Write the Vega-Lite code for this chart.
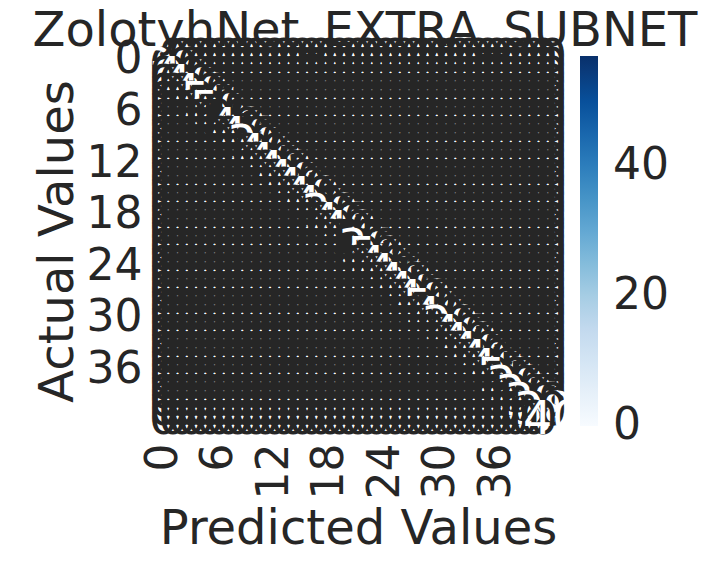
{
"$schema": "https://vega.github.io/schema/vega-lite/v6.json",
"width": 398,
"height": 370,
"autosize": "none",
"padding": {"left": 159, "top": 56, "right": 156, "bottom": 135},
"background": "white",
"title": {"text": "ZolotyhNet_EXTRA_SUBNET", "fontSize": 48, "font": "DejaVu Sans", "fontWeight": "normal", "color": "#262626", "anchor": "middle", "frame": "group", "dx": 7, "dy": 51, "baseline": "alphabetic", "offset": -8},
"config": {"view": {"stroke": null}, "font": "DejaVu Sans"},
"data": {"values": [
{"a":0,"p":0,"n":33},{"a":0,"p":1,"n":0},{"a":0,"p":2,"n":0},{"a":0,"p":3,"n":0},{"a":0,"p":4,"n":0},{"a":0,"p":5,"n":0},{"a":0,"p":6,"n":0},{"a":0,"p":7,"n":0},{"a":0,"p":8,"n":0},{"a":0,"p":9,"n":0},{"a":0,"p":10,"n":0},{"a":0,"p":11,"n":0},{"a":0,"p":12,"n":0},{"a":0,"p":13,"n":0},{"a":0,"p":14,"n":0},{"a":0,"p":15,"n":0},{"a":0,"p":16,"n":0},{"a":0,"p":17,"n":0},{"a":0,"p":18,"n":0},{"a":0,"p":19,"n":0},{"a":0,"p":20,"n":0},{"a":0,"p":21,"n":0},{"a":0,"p":22,"n":0},{"a":0,"p":23,"n":0},{"a":0,"p":24,"n":0},{"a":0,"p":25,"n":0},{"a":0,"p":26,"n":0},{"a":0,"p":27,"n":0},{"a":0,"p":28,"n":0},{"a":0,"p":29,"n":0},{"a":0,"p":30,"n":0},{"a":0,"p":31,"n":0},{"a":0,"p":32,"n":0},{"a":0,"p":33,"n":0},{"a":0,"p":34,"n":0},{"a":0,"p":35,"n":0},{"a":0,"p":36,"n":0},{"a":0,"p":37,"n":0},{"a":0,"p":38,"n":0},{"a":0,"p":39,"n":0},{"a":0,"p":40,"n":0},{"a":0,"p":41,"n":0},{"a":0,"p":42,"n":0},
{"a":1,"p":0,"n":0},{"a":1,"p":1,"n":30},{"a":1,"p":2,"n":0},{"a":1,"p":3,"n":0},{"a":1,"p":4,"n":0},{"a":1,"p":5,"n":0},{"a":1,"p":6,"n":0},{"a":1,"p":7,"n":0},{"a":1,"p":8,"n":0},{"a":1,"p":9,"n":0},{"a":1,"p":10,"n":0},{"a":1,"p":11,"n":0},{"a":1,"p":12,"n":0},{"a":1,"p":13,"n":0},{"a":1,"p":14,"n":0},{"a":1,"p":15,"n":0},{"a":1,"p":16,"n":0},{"a":1,"p":17,"n":0},{"a":1,"p":18,"n":0},{"a":1,"p":19,"n":0},{"a":1,"p":20,"n":0},{"a":1,"p":21,"n":0},{"a":1,"p":22,"n":0},{"a":1,"p":23,"n":0},{"a":1,"p":24,"n":0},{"a":1,"p":25,"n":0},{"a":1,"p":26,"n":0},{"a":1,"p":27,"n":0},{"a":1,"p":28,"n":0},{"a":1,"p":29,"n":0},{"a":1,"p":30,"n":0},{"a":1,"p":31,"n":0},{"a":1,"p":32,"n":0},{"a":1,"p":33,"n":0},{"a":1,"p":34,"n":0},{"a":1,"p":35,"n":0},{"a":1,"p":36,"n":0},{"a":1,"p":37,"n":0},{"a":1,"p":38,"n":0},{"a":1,"p":39,"n":0},{"a":1,"p":40,"n":0},{"a":1,"p":41,"n":0},{"a":1,"p":42,"n":0},
{"a":2,"p":0,"n":0},{"a":2,"p":1,"n":0},{"a":2,"p":2,"n":44},{"a":2,"p":3,"n":0},{"a":2,"p":4,"n":0},{"a":2,"p":5,"n":0},{"a":2,"p":6,"n":0},{"a":2,"p":7,"n":0},{"a":2,"p":8,"n":0},{"a":2,"p":9,"n":0},{"a":2,"p":10,"n":0},{"a":2,"p":11,"n":0},{"a":2,"p":12,"n":0},{"a":2,"p":13,"n":0},{"a":2,"p":14,"n":0},{"a":2,"p":15,"n":0},{"a":2,"p":16,"n":0},{"a":2,"p":17,"n":0},{"a":2,"p":18,"n":0},{"a":2,"p":19,"n":0},{"a":2,"p":20,"n":0},{"a":2,"p":21,"n":0},{"a":2,"p":22,"n":0},{"a":2,"p":23,"n":0},{"a":2,"p":24,"n":0},{"a":2,"p":25,"n":0},{"a":2,"p":26,"n":0},{"a":2,"p":27,"n":0},{"a":2,"p":28,"n":0},{"a":2,"p":29,"n":0},{"a":2,"p":30,"n":0},{"a":2,"p":31,"n":0},{"a":2,"p":32,"n":0},{"a":2,"p":33,"n":0},{"a":2,"p":34,"n":0},{"a":2,"p":35,"n":0},{"a":2,"p":36,"n":0},{"a":2,"p":37,"n":0},{"a":2,"p":38,"n":0},{"a":2,"p":39,"n":0},{"a":2,"p":40,"n":0},{"a":2,"p":41,"n":0},{"a":2,"p":42,"n":0},
{"a":3,"p":0,"n":0},{"a":3,"p":1,"n":0},{"a":3,"p":2,"n":0},{"a":3,"p":3,"n":45},{"a":3,"p":4,"n":0},{"a":3,"p":5,"n":0},{"a":3,"p":6,"n":0},{"a":3,"p":7,"n":0},{"a":3,"p":8,"n":0},{"a":3,"p":9,"n":0},{"a":3,"p":10,"n":0},{"a":3,"p":11,"n":0},{"a":3,"p":12,"n":0},{"a":3,"p":13,"n":0},{"a":3,"p":14,"n":0},{"a":3,"p":15,"n":0},{"a":3,"p":16,"n":0},{"a":3,"p":17,"n":0},{"a":3,"p":18,"n":0},{"a":3,"p":19,"n":0},{"a":3,"p":20,"n":0},{"a":3,"p":21,"n":0},{"a":3,"p":22,"n":0},{"a":3,"p":23,"n":0},{"a":3,"p":24,"n":0},{"a":3,"p":25,"n":0},{"a":3,"p":26,"n":0},{"a":3,"p":27,"n":0},{"a":3,"p":28,"n":0},{"a":3,"p":29,"n":0},{"a":3,"p":30,"n":0},{"a":3,"p":31,"n":0},{"a":3,"p":32,"n":0},{"a":3,"p":33,"n":0},{"a":3,"p":34,"n":0},{"a":3,"p":35,"n":0},{"a":3,"p":36,"n":0},{"a":3,"p":37,"n":0},{"a":3,"p":38,"n":0},{"a":3,"p":39,"n":0},{"a":3,"p":40,"n":0},{"a":3,"p":41,"n":0},{"a":3,"p":42,"n":0},
{"a":4,"p":0,"n":0},{"a":4,"p":1,"n":0},{"a":4,"p":2,"n":0},{"a":4,"p":3,"n":0},{"a":4,"p":4,"n":48},{"a":4,"p":5,"n":0},{"a":4,"p":6,"n":0},{"a":4,"p":7,"n":0},{"a":4,"p":8,"n":0},{"a":4,"p":9,"n":0},{"a":4,"p":10,"n":0},{"a":4,"p":11,"n":0},{"a":4,"p":12,"n":0},{"a":4,"p":13,"n":0},{"a":4,"p":14,"n":0},{"a":4,"p":15,"n":0},{"a":4,"p":16,"n":0},{"a":4,"p":17,"n":0},{"a":4,"p":18,"n":0},{"a":4,"p":19,"n":0},{"a":4,"p":20,"n":0},{"a":4,"p":21,"n":0},{"a":4,"p":22,"n":0},{"a":4,"p":23,"n":0},{"a":4,"p":24,"n":0},{"a":4,"p":25,"n":0},{"a":4,"p":26,"n":0},{"a":4,"p":27,"n":0},{"a":4,"p":28,"n":0},{"a":4,"p":29,"n":0},{"a":4,"p":30,"n":0},{"a":4,"p":31,"n":0},{"a":4,"p":32,"n":0},{"a":4,"p":33,"n":0},{"a":4,"p":34,"n":0},{"a":4,"p":35,"n":0},{"a":4,"p":36,"n":0},{"a":4,"p":37,"n":0},{"a":4,"p":38,"n":0},{"a":4,"p":39,"n":0},{"a":4,"p":40,"n":0},{"a":4,"p":41,"n":0},{"a":4,"p":42,"n":0},
{"a":5,"p":0,"n":0},{"a":5,"p":1,"n":0},{"a":5,"p":2,"n":0},{"a":5,"p":3,"n":0},{"a":5,"p":4,"n":0},{"a":5,"p":5,"n":57},{"a":5,"p":6,"n":0},{"a":5,"p":7,"n":0},{"a":5,"p":8,"n":0},{"a":5,"p":9,"n":0},{"a":5,"p":10,"n":0},{"a":5,"p":11,"n":0},{"a":5,"p":12,"n":0},{"a":5,"p":13,"n":0},{"a":5,"p":14,"n":0},{"a":5,"p":15,"n":0},{"a":5,"p":16,"n":0},{"a":5,"p":17,"n":0},{"a":5,"p":18,"n":0},{"a":5,"p":19,"n":0},{"a":5,"p":20,"n":0},{"a":5,"p":21,"n":0},{"a":5,"p":22,"n":0},{"a":5,"p":23,"n":0},{"a":5,"p":24,"n":0},{"a":5,"p":25,"n":0},{"a":5,"p":26,"n":0},{"a":5,"p":27,"n":0},{"a":5,"p":28,"n":0},{"a":5,"p":29,"n":0},{"a":5,"p":30,"n":0},{"a":5,"p":31,"n":0},{"a":5,"p":32,"n":0},{"a":5,"p":33,"n":0},{"a":5,"p":34,"n":0},{"a":5,"p":35,"n":0},{"a":5,"p":36,"n":0},{"a":5,"p":37,"n":0},{"a":5,"p":38,"n":0},{"a":5,"p":39,"n":0},{"a":5,"p":40,"n":0},{"a":5,"p":41,"n":0},{"a":5,"p":42,"n":0},
{"a":6,"p":0,"n":0},{"a":6,"p":1,"n":0},{"a":6,"p":2,"n":0},{"a":6,"p":3,"n":0},{"a":6,"p":4,"n":0},{"a":6,"p":5,"n":0},{"a":6,"p":6,"n":55},{"a":6,"p":7,"n":0},{"a":6,"p":8,"n":0},{"a":6,"p":9,"n":0},{"a":6,"p":10,"n":0},{"a":6,"p":11,"n":0},{"a":6,"p":12,"n":0},{"a":6,"p":13,"n":0},{"a":6,"p":14,"n":0},{"a":6,"p":15,"n":0},{"a":6,"p":16,"n":0},{"a":6,"p":17,"n":0},{"a":6,"p":18,"n":0},{"a":6,"p":19,"n":0},{"a":6,"p":20,"n":0},{"a":6,"p":21,"n":0},{"a":6,"p":22,"n":0},{"a":6,"p":23,"n":0},{"a":6,"p":24,"n":0},{"a":6,"p":25,"n":0},{"a":6,"p":26,"n":0},{"a":6,"p":27,"n":0},{"a":6,"p":28,"n":0},{"a":6,"p":29,"n":0},{"a":6,"p":30,"n":0},{"a":6,"p":31,"n":0},{"a":6,"p":32,"n":0},{"a":6,"p":33,"n":0},{"a":6,"p":34,"n":0},{"a":6,"p":35,"n":0},{"a":6,"p":36,"n":0},{"a":6,"p":37,"n":0},{"a":6,"p":38,"n":0},{"a":6,"p":39,"n":0},{"a":6,"p":40,"n":0},{"a":6,"p":41,"n":0},{"a":6,"p":42,"n":0},
{"a":7,"p":0,"n":0},{"a":7,"p":1,"n":0},{"a":7,"p":2,"n":0},{"a":7,"p":3,"n":0},{"a":7,"p":4,"n":0},{"a":7,"p":5,"n":0},{"a":7,"p":6,"n":0},{"a":7,"p":7,"n":18},{"a":7,"p":8,"n":0},{"a":7,"p":9,"n":0},{"a":7,"p":10,"n":0},{"a":7,"p":11,"n":0},{"a":7,"p":12,"n":0},{"a":7,"p":13,"n":0},{"a":7,"p":14,"n":0},{"a":7,"p":15,"n":0},{"a":7,"p":16,"n":0},{"a":7,"p":17,"n":0},{"a":7,"p":18,"n":0},{"a":7,"p":19,"n":0},{"a":7,"p":20,"n":0},{"a":7,"p":21,"n":0},{"a":7,"p":22,"n":0},{"a":7,"p":23,"n":0},{"a":7,"p":24,"n":0},{"a":7,"p":25,"n":0},{"a":7,"p":26,"n":0},{"a":7,"p":27,"n":0},{"a":7,"p":28,"n":0},{"a":7,"p":29,"n":0},{"a":7,"p":30,"n":0},{"a":7,"p":31,"n":0},{"a":7,"p":32,"n":0},{"a":7,"p":33,"n":0},{"a":7,"p":34,"n":0},{"a":7,"p":35,"n":0},{"a":7,"p":36,"n":0},{"a":7,"p":37,"n":0},{"a":7,"p":38,"n":0},{"a":7,"p":39,"n":0},{"a":7,"p":40,"n":0},{"a":7,"p":41,"n":0},{"a":7,"p":42,"n":0},
{"a":8,"p":0,"n":0},{"a":8,"p":1,"n":0},{"a":8,"p":2,"n":0},{"a":8,"p":3,"n":0},{"a":8,"p":4,"n":0},{"a":8,"p":5,"n":0},{"a":8,"p":6,"n":0},{"a":8,"p":7,"n":0},{"a":8,"p":8,"n":42},{"a":8,"p":9,"n":0},{"a":8,"p":10,"n":0},{"a":8,"p":11,"n":0},{"a":8,"p":12,"n":0},{"a":8,"p":13,"n":0},{"a":8,"p":14,"n":0},{"a":8,"p":15,"n":0},{"a":8,"p":16,"n":0},{"a":8,"p":17,"n":0},{"a":8,"p":18,"n":0},{"a":8,"p":19,"n":0},{"a":8,"p":20,"n":0},{"a":8,"p":21,"n":0},{"a":8,"p":22,"n":0},{"a":8,"p":23,"n":0},{"a":8,"p":24,"n":0},{"a":8,"p":25,"n":0},{"a":8,"p":26,"n":0},{"a":8,"p":27,"n":0},{"a":8,"p":28,"n":0},{"a":8,"p":29,"n":0},{"a":8,"p":30,"n":0},{"a":8,"p":31,"n":0},{"a":8,"p":32,"n":0},{"a":8,"p":33,"n":0},{"a":8,"p":34,"n":0},{"a":8,"p":35,"n":0},{"a":8,"p":36,"n":0},{"a":8,"p":37,"n":0},{"a":8,"p":38,"n":0},{"a":8,"p":39,"n":0},{"a":8,"p":40,"n":0},{"a":8,"p":41,"n":0},{"a":8,"p":42,"n":0},
{"a":9,"p":0,"n":0},{"a":9,"p":1,"n":0},{"a":9,"p":2,"n":0},{"a":9,"p":3,"n":0},{"a":9,"p":4,"n":0},{"a":9,"p":5,"n":0},{"a":9,"p":6,"n":0},{"a":9,"p":7,"n":0},{"a":9,"p":8,"n":0},{"a":9,"p":9,"n":46},{"a":9,"p":10,"n":0},{"a":9,"p":11,"n":0},{"a":9,"p":12,"n":0},{"a":9,"p":13,"n":0},{"a":9,"p":14,"n":0},{"a":9,"p":15,"n":0},{"a":9,"p":16,"n":0},{"a":9,"p":17,"n":0},{"a":9,"p":18,"n":0},{"a":9,"p":19,"n":0},{"a":9,"p":20,"n":0},{"a":9,"p":21,"n":0},{"a":9,"p":22,"n":0},{"a":9,"p":23,"n":0},{"a":9,"p":24,"n":0},{"a":9,"p":25,"n":0},{"a":9,"p":26,"n":0},{"a":9,"p":27,"n":0},{"a":9,"p":28,"n":0},{"a":9,"p":29,"n":0},{"a":9,"p":30,"n":0},{"a":9,"p":31,"n":0},{"a":9,"p":32,"n":0},{"a":9,"p":33,"n":0},{"a":9,"p":34,"n":0},{"a":9,"p":35,"n":0},{"a":9,"p":36,"n":0},{"a":9,"p":37,"n":0},{"a":9,"p":38,"n":0},{"a":9,"p":39,"n":0},{"a":9,"p":40,"n":0},{"a":9,"p":41,"n":0},{"a":9,"p":42,"n":0},
{"a":10,"p":0,"n":0},{"a":10,"p":1,"n":0},{"a":10,"p":2,"n":0},{"a":10,"p":3,"n":0},{"a":10,"p":4,"n":0},{"a":10,"p":5,"n":0},{"a":10,"p":6,"n":0},{"a":10,"p":7,"n":0},{"a":10,"p":8,"n":0},{"a":10,"p":9,"n":0},{"a":10,"p":10,"n":35},{"a":10,"p":11,"n":0},{"a":10,"p":12,"n":0},{"a":10,"p":13,"n":0},{"a":10,"p":14,"n":0},{"a":10,"p":15,"n":0},{"a":10,"p":16,"n":0},{"a":10,"p":17,"n":0},{"a":10,"p":18,"n":0},{"a":10,"p":19,"n":0},{"a":10,"p":20,"n":0},{"a":10,"p":21,"n":0},{"a":10,"p":22,"n":0},{"a":10,"p":23,"n":0},{"a":10,"p":24,"n":0},{"a":10,"p":25,"n":0},{"a":10,"p":26,"n":0},{"a":10,"p":27,"n":0},{"a":10,"p":28,"n":0},{"a":10,"p":29,"n":0},{"a":10,"p":30,"n":0},{"a":10,"p":31,"n":0},{"a":10,"p":32,"n":0},{"a":10,"p":33,"n":0},{"a":10,"p":34,"n":0},{"a":10,"p":35,"n":0},{"a":10,"p":36,"n":0},{"a":10,"p":37,"n":0},{"a":10,"p":38,"n":0},{"a":10,"p":39,"n":0},{"a":10,"p":40,"n":0},{"a":10,"p":41,"n":0},{"a":10,"p":42,"n":0},
{"a":11,"p":0,"n":0},{"a":11,"p":1,"n":0},{"a":11,"p":2,"n":0},{"a":11,"p":3,"n":0},{"a":11,"p":4,"n":0},{"a":11,"p":5,"n":0},{"a":11,"p":6,"n":0},{"a":11,"p":7,"n":0},{"a":11,"p":8,"n":0},{"a":11,"p":9,"n":0},{"a":11,"p":10,"n":0},{"a":11,"p":11,"n":44},{"a":11,"p":12,"n":0},{"a":11,"p":13,"n":0},{"a":11,"p":14,"n":0},{"a":11,"p":15,"n":0},{"a":11,"p":16,"n":0},{"a":11,"p":17,"n":0},{"a":11,"p":18,"n":0},{"a":11,"p":19,"n":0},{"a":11,"p":20,"n":0},{"a":11,"p":21,"n":0},{"a":11,"p":22,"n":0},{"a":11,"p":23,"n":0},{"a":11,"p":24,"n":0},{"a":11,"p":25,"n":0},{"a":11,"p":26,"n":0},{"a":11,"p":27,"n":0},{"a":11,"p":28,"n":0},{"a":11,"p":29,"n":0},{"a":11,"p":30,"n":0},{"a":11,"p":31,"n":0},{"a":11,"p":32,"n":0},{"a":11,"p":33,"n":0},{"a":11,"p":34,"n":0},{"a":11,"p":35,"n":0},{"a":11,"p":36,"n":0},{"a":11,"p":37,"n":0},{"a":11,"p":38,"n":0},{"a":11,"p":39,"n":0},{"a":11,"p":40,"n":0},{"a":11,"p":41,"n":0},{"a":11,"p":42,"n":0},
{"a":12,"p":0,"n":0},{"a":12,"p":1,"n":0},{"a":12,"p":2,"n":0},{"a":12,"p":3,"n":0},{"a":12,"p":4,"n":0},{"a":12,"p":5,"n":0},{"a":12,"p":6,"n":0},{"a":12,"p":7,"n":0},{"a":12,"p":8,"n":0},{"a":12,"p":9,"n":0},{"a":12,"p":10,"n":0},{"a":12,"p":11,"n":0},{"a":12,"p":12,"n":47},{"a":12,"p":13,"n":0},{"a":12,"p":14,"n":0},{"a":12,"p":15,"n":0},{"a":12,"p":16,"n":0},{"a":12,"p":17,"n":0},{"a":12,"p":18,"n":0},{"a":12,"p":19,"n":0},{"a":12,"p":20,"n":0},{"a":12,"p":21,"n":0},{"a":12,"p":22,"n":0},{"a":12,"p":23,"n":0},{"a":12,"p":24,"n":0},{"a":12,"p":25,"n":0},{"a":12,"p":26,"n":0},{"a":12,"p":27,"n":0},{"a":12,"p":28,"n":0},{"a":12,"p":29,"n":0},{"a":12,"p":30,"n":0},{"a":12,"p":31,"n":0},{"a":12,"p":32,"n":0},{"a":12,"p":33,"n":0},{"a":12,"p":34,"n":0},{"a":12,"p":35,"n":0},{"a":12,"p":36,"n":0},{"a":12,"p":37,"n":0},{"a":12,"p":38,"n":0},{"a":12,"p":39,"n":0},{"a":12,"p":40,"n":0},{"a":12,"p":41,"n":0},{"a":12,"p":42,"n":0},
{"a":13,"p":0,"n":0},{"a":13,"p":1,"n":0},{"a":13,"p":2,"n":0},{"a":13,"p":3,"n":0},{"a":13,"p":4,"n":0},{"a":13,"p":5,"n":0},{"a":13,"p":6,"n":0},{"a":13,"p":7,"n":0},{"a":13,"p":8,"n":0},{"a":13,"p":9,"n":0},{"a":13,"p":10,"n":0},{"a":13,"p":11,"n":0},{"a":13,"p":12,"n":0},{"a":13,"p":13,"n":43},{"a":13,"p":14,"n":0},{"a":13,"p":15,"n":0},{"a":13,"p":16,"n":0},{"a":13,"p":17,"n":0},{"a":13,"p":18,"n":0},{"a":13,"p":19,"n":0},{"a":13,"p":20,"n":0},{"a":13,"p":21,"n":0},{"a":13,"p":22,"n":0},{"a":13,"p":23,"n":0},{"a":13,"p":24,"n":0},{"a":13,"p":25,"n":0},{"a":13,"p":26,"n":0},{"a":13,"p":27,"n":0},{"a":13,"p":28,"n":0},{"a":13,"p":29,"n":0},{"a":13,"p":30,"n":0},{"a":13,"p":31,"n":0},{"a":13,"p":32,"n":0},{"a":13,"p":33,"n":0},{"a":13,"p":34,"n":0},{"a":13,"p":35,"n":0},{"a":13,"p":36,"n":0},{"a":13,"p":37,"n":0},{"a":13,"p":38,"n":0},{"a":13,"p":39,"n":0},{"a":13,"p":40,"n":0},{"a":13,"p":41,"n":0},{"a":13,"p":42,"n":0},
{"a":14,"p":0,"n":0},{"a":14,"p":1,"n":0},{"a":14,"p":2,"n":0},{"a":14,"p":3,"n":0},{"a":14,"p":4,"n":0},{"a":14,"p":5,"n":0},{"a":14,"p":6,"n":0},{"a":14,"p":7,"n":0},{"a":14,"p":8,"n":0},{"a":14,"p":9,"n":0},{"a":14,"p":10,"n":0},{"a":14,"p":11,"n":0},{"a":14,"p":12,"n":0},{"a":14,"p":13,"n":0},{"a":14,"p":14,"n":45},{"a":14,"p":15,"n":0},{"a":14,"p":16,"n":0},{"a":14,"p":17,"n":0},{"a":14,"p":18,"n":0},{"a":14,"p":19,"n":0},{"a":14,"p":20,"n":0},{"a":14,"p":21,"n":0},{"a":14,"p":22,"n":0},{"a":14,"p":23,"n":0},{"a":14,"p":24,"n":0},{"a":14,"p":25,"n":0},{"a":14,"p":26,"n":0},{"a":14,"p":27,"n":0},{"a":14,"p":28,"n":0},{"a":14,"p":29,"n":0},{"a":14,"p":30,"n":0},{"a":14,"p":31,"n":0},{"a":14,"p":32,"n":0},{"a":14,"p":33,"n":0},{"a":14,"p":34,"n":0},{"a":14,"p":35,"n":0},{"a":14,"p":36,"n":0},{"a":14,"p":37,"n":0},{"a":14,"p":38,"n":0},{"a":14,"p":39,"n":0},{"a":14,"p":40,"n":0},{"a":14,"p":41,"n":0},{"a":14,"p":42,"n":0},
{"a":15,"p":0,"n":0},{"a":15,"p":1,"n":0},{"a":15,"p":2,"n":0},{"a":15,"p":3,"n":0},{"a":15,"p":4,"n":0},{"a":15,"p":5,"n":0},{"a":15,"p":6,"n":0},{"a":15,"p":7,"n":0},{"a":15,"p":8,"n":0},{"a":15,"p":9,"n":0},{"a":15,"p":10,"n":0},{"a":15,"p":11,"n":0},{"a":15,"p":12,"n":0},{"a":15,"p":13,"n":0},{"a":15,"p":14,"n":0},{"a":15,"p":15,"n":41},{"a":15,"p":16,"n":0},{"a":15,"p":17,"n":0},{"a":15,"p":18,"n":0},{"a":15,"p":19,"n":0},{"a":15,"p":20,"n":0},{"a":15,"p":21,"n":0},{"a":15,"p":22,"n":0},{"a":15,"p":23,"n":0},{"a":15,"p":24,"n":0},{"a":15,"p":25,"n":0},{"a":15,"p":26,"n":0},{"a":15,"p":27,"n":0},{"a":15,"p":28,"n":0},{"a":15,"p":29,"n":0},{"a":15,"p":30,"n":0},{"a":15,"p":31,"n":0},{"a":15,"p":32,"n":0},{"a":15,"p":33,"n":0},{"a":15,"p":34,"n":0},{"a":15,"p":35,"n":0},{"a":15,"p":36,"n":0},{"a":15,"p":37,"n":0},{"a":15,"p":38,"n":0},{"a":15,"p":39,"n":0},{"a":15,"p":40,"n":0},{"a":15,"p":41,"n":0},{"a":15,"p":42,"n":0},
{"a":16,"p":0,"n":0},{"a":16,"p":1,"n":0},{"a":16,"p":2,"n":0},{"a":16,"p":3,"n":0},{"a":16,"p":4,"n":0},{"a":16,"p":5,"n":0},{"a":16,"p":6,"n":0},{"a":16,"p":7,"n":0},{"a":16,"p":8,"n":0},{"a":16,"p":9,"n":0},{"a":16,"p":10,"n":0},{"a":16,"p":11,"n":0},{"a":16,"p":12,"n":0},{"a":16,"p":13,"n":0},{"a":16,"p":14,"n":0},{"a":16,"p":15,"n":0},{"a":16,"p":16,"n":49},{"a":16,"p":17,"n":0},{"a":16,"p":18,"n":0},{"a":16,"p":19,"n":0},{"a":16,"p":20,"n":0},{"a":16,"p":21,"n":0},{"a":16,"p":22,"n":0},{"a":16,"p":23,"n":0},{"a":16,"p":24,"n":0},{"a":16,"p":25,"n":0},{"a":16,"p":26,"n":0},{"a":16,"p":27,"n":0},{"a":16,"p":28,"n":0},{"a":16,"p":29,"n":0},{"a":16,"p":30,"n":0},{"a":16,"p":31,"n":0},{"a":16,"p":32,"n":0},{"a":16,"p":33,"n":0},{"a":16,"p":34,"n":0},{"a":16,"p":35,"n":0},{"a":16,"p":36,"n":0},{"a":16,"p":37,"n":0},{"a":16,"p":38,"n":0},{"a":16,"p":39,"n":0},{"a":16,"p":40,"n":0},{"a":16,"p":41,"n":0},{"a":16,"p":42,"n":0},
{"a":17,"p":0,"n":0},{"a":17,"p":1,"n":0},{"a":17,"p":2,"n":0},{"a":17,"p":3,"n":0},{"a":17,"p":4,"n":0},{"a":17,"p":5,"n":0},{"a":17,"p":6,"n":0},{"a":17,"p":7,"n":0},{"a":17,"p":8,"n":0},{"a":17,"p":9,"n":0},{"a":17,"p":10,"n":0},{"a":17,"p":11,"n":0},{"a":17,"p":12,"n":0},{"a":17,"p":13,"n":0},{"a":17,"p":14,"n":0},{"a":17,"p":15,"n":0},{"a":17,"p":16,"n":0},{"a":17,"p":17,"n":44},{"a":17,"p":18,"n":0},{"a":17,"p":19,"n":0},{"a":17,"p":20,"n":0},{"a":17,"p":21,"n":0},{"a":17,"p":22,"n":0},{"a":17,"p":23,"n":0},{"a":17,"p":24,"n":0},{"a":17,"p":25,"n":0},{"a":17,"p":26,"n":0},{"a":17,"p":27,"n":0},{"a":17,"p":28,"n":0},{"a":17,"p":29,"n":0},{"a":17,"p":30,"n":0},{"a":17,"p":31,"n":0},{"a":17,"p":32,"n":0},{"a":17,"p":33,"n":0},{"a":17,"p":34,"n":0},{"a":17,"p":35,"n":0},{"a":17,"p":36,"n":0},{"a":17,"p":37,"n":0},{"a":17,"p":38,"n":0},{"a":17,"p":39,"n":0},{"a":17,"p":40,"n":0},{"a":17,"p":41,"n":0},{"a":17,"p":42,"n":0},
{"a":18,"p":0,"n":0},{"a":18,"p":1,"n":0},{"a":18,"p":2,"n":0},{"a":18,"p":3,"n":0},{"a":18,"p":4,"n":0},{"a":18,"p":5,"n":0},{"a":18,"p":6,"n":0},{"a":18,"p":7,"n":0},{"a":18,"p":8,"n":0},{"a":18,"p":9,"n":0},{"a":18,"p":10,"n":0},{"a":18,"p":11,"n":0},{"a":18,"p":12,"n":0},{"a":18,"p":13,"n":0},{"a":18,"p":14,"n":0},{"a":18,"p":15,"n":0},{"a":18,"p":16,"n":0},{"a":18,"p":17,"n":0},{"a":18,"p":18,"n":38},{"a":18,"p":19,"n":0},{"a":18,"p":20,"n":0},{"a":18,"p":21,"n":0},{"a":18,"p":22,"n":0},{"a":18,"p":23,"n":0},{"a":18,"p":24,"n":0},{"a":18,"p":25,"n":0},{"a":18,"p":26,"n":0},{"a":18,"p":27,"n":0},{"a":18,"p":28,"n":0},{"a":18,"p":29,"n":0},{"a":18,"p":30,"n":0},{"a":18,"p":31,"n":0},{"a":18,"p":32,"n":0},{"a":18,"p":33,"n":0},{"a":18,"p":34,"n":0},{"a":18,"p":35,"n":0},{"a":18,"p":36,"n":0},{"a":18,"p":37,"n":0},{"a":18,"p":38,"n":0},{"a":18,"p":39,"n":0},{"a":18,"p":40,"n":0},{"a":18,"p":41,"n":0},{"a":18,"p":42,"n":0},
{"a":19,"p":0,"n":0},{"a":19,"p":1,"n":0},{"a":19,"p":2,"n":0},{"a":19,"p":3,"n":0},{"a":19,"p":4,"n":0},{"a":19,"p":5,"n":0},{"a":19,"p":6,"n":0},{"a":19,"p":7,"n":0},{"a":19,"p":8,"n":0},{"a":19,"p":9,"n":0},{"a":19,"p":10,"n":0},{"a":19,"p":11,"n":0},{"a":19,"p":12,"n":0},{"a":19,"p":13,"n":0},{"a":19,"p":14,"n":0},{"a":19,"p":15,"n":0},{"a":19,"p":16,"n":0},{"a":19,"p":17,"n":0},{"a":19,"p":18,"n":0},{"a":19,"p":19,"n":46},{"a":19,"p":20,"n":0},{"a":19,"p":21,"n":0},{"a":19,"p":22,"n":0},{"a":19,"p":23,"n":0},{"a":19,"p":24,"n":0},{"a":19,"p":25,"n":0},{"a":19,"p":26,"n":0},{"a":19,"p":27,"n":0},{"a":19,"p":28,"n":0},{"a":19,"p":29,"n":0},{"a":19,"p":30,"n":0},{"a":19,"p":31,"n":0},{"a":19,"p":32,"n":0},{"a":19,"p":33,"n":0},{"a":19,"p":34,"n":0},{"a":19,"p":35,"n":0},{"a":19,"p":36,"n":0},{"a":19,"p":37,"n":0},{"a":19,"p":38,"n":0},{"a":19,"p":39,"n":0},{"a":19,"p":40,"n":0},{"a":19,"p":41,"n":0},{"a":19,"p":42,"n":0},
{"a":20,"p":0,"n":0},{"a":20,"p":1,"n":0},{"a":20,"p":2,"n":0},{"a":20,"p":3,"n":0},{"a":20,"p":4,"n":0},{"a":20,"p":5,"n":0},{"a":20,"p":6,"n":0},{"a":20,"p":7,"n":0},{"a":20,"p":8,"n":0},{"a":20,"p":9,"n":0},{"a":20,"p":10,"n":0},{"a":20,"p":11,"n":0},{"a":20,"p":12,"n":0},{"a":20,"p":13,"n":0},{"a":20,"p":14,"n":0},{"a":20,"p":15,"n":0},{"a":20,"p":16,"n":0},{"a":20,"p":17,"n":0},{"a":20,"p":18,"n":0},{"a":20,"p":19,"n":0},{"a":20,"p":20,"n":43},{"a":20,"p":21,"n":0},{"a":20,"p":22,"n":0},{"a":20,"p":23,"n":0},{"a":20,"p":24,"n":0},{"a":20,"p":25,"n":0},{"a":20,"p":26,"n":0},{"a":20,"p":27,"n":0},{"a":20,"p":28,"n":0},{"a":20,"p":29,"n":0},{"a":20,"p":30,"n":0},{"a":20,"p":31,"n":0},{"a":20,"p":32,"n":0},{"a":20,"p":33,"n":0},{"a":20,"p":34,"n":0},{"a":20,"p":35,"n":0},{"a":20,"p":36,"n":0},{"a":20,"p":37,"n":0},{"a":20,"p":38,"n":0},{"a":20,"p":39,"n":0},{"a":20,"p":40,"n":0},{"a":20,"p":41,"n":0},{"a":20,"p":42,"n":0},
{"a":21,"p":0,"n":0},{"a":21,"p":1,"n":0},{"a":21,"p":2,"n":0},{"a":21,"p":3,"n":0},{"a":21,"p":4,"n":0},{"a":21,"p":5,"n":0},{"a":21,"p":6,"n":0},{"a":21,"p":7,"n":0},{"a":21,"p":8,"n":0},{"a":21,"p":9,"n":0},{"a":21,"p":10,"n":0},{"a":21,"p":11,"n":0},{"a":21,"p":12,"n":0},{"a":21,"p":13,"n":0},{"a":21,"p":14,"n":0},{"a":21,"p":15,"n":0},{"a":21,"p":16,"n":0},{"a":21,"p":17,"n":0},{"a":21,"p":18,"n":0},{"a":21,"p":19,"n":0},{"a":21,"p":20,"n":0},{"a":21,"p":21,"n":17},{"a":21,"p":22,"n":0},{"a":21,"p":23,"n":0},{"a":21,"p":24,"n":0},{"a":21,"p":25,"n":0},{"a":21,"p":26,"n":0},{"a":21,"p":27,"n":0},{"a":21,"p":28,"n":0},{"a":21,"p":29,"n":0},{"a":21,"p":30,"n":0},{"a":21,"p":31,"n":0},{"a":21,"p":32,"n":0},{"a":21,"p":33,"n":0},{"a":21,"p":34,"n":0},{"a":21,"p":35,"n":0},{"a":21,"p":36,"n":0},{"a":21,"p":37,"n":0},{"a":21,"p":38,"n":0},{"a":21,"p":39,"n":0},{"a":21,"p":40,"n":0},{"a":21,"p":41,"n":0},{"a":21,"p":42,"n":0},
{"a":22,"p":0,"n":0},{"a":22,"p":1,"n":0},{"a":22,"p":2,"n":0},{"a":22,"p":3,"n":0},{"a":22,"p":4,"n":0},{"a":22,"p":5,"n":0},{"a":22,"p":6,"n":0},{"a":22,"p":7,"n":0},{"a":22,"p":8,"n":0},{"a":22,"p":9,"n":0},{"a":22,"p":10,"n":0},{"a":22,"p":11,"n":0},{"a":22,"p":12,"n":0},{"a":22,"p":13,"n":0},{"a":22,"p":14,"n":0},{"a":22,"p":15,"n":0},{"a":22,"p":16,"n":0},{"a":22,"p":17,"n":0},{"a":22,"p":18,"n":0},{"a":22,"p":19,"n":0},{"a":22,"p":20,"n":0},{"a":22,"p":21,"n":0},{"a":22,"p":22,"n":36},{"a":22,"p":23,"n":0},{"a":22,"p":24,"n":0},{"a":22,"p":25,"n":0},{"a":22,"p":26,"n":0},{"a":22,"p":27,"n":0},{"a":22,"p":28,"n":0},{"a":22,"p":29,"n":0},{"a":22,"p":30,"n":0},{"a":22,"p":31,"n":0},{"a":22,"p":32,"n":0},{"a":22,"p":33,"n":0},{"a":22,"p":34,"n":0},{"a":22,"p":35,"n":0},{"a":22,"p":36,"n":0},{"a":22,"p":37,"n":0},{"a":22,"p":38,"n":0},{"a":22,"p":39,"n":0},{"a":22,"p":40,"n":0},{"a":22,"p":41,"n":0},{"a":22,"p":42,"n":0},
{"a":23,"p":0,"n":0},{"a":23,"p":1,"n":0},{"a":23,"p":2,"n":0},{"a":23,"p":3,"n":0},{"a":23,"p":4,"n":0},{"a":23,"p":5,"n":0},{"a":23,"p":6,"n":0},{"a":23,"p":7,"n":0},{"a":23,"p":8,"n":0},{"a":23,"p":9,"n":0},{"a":23,"p":10,"n":0},{"a":23,"p":11,"n":0},{"a":23,"p":12,"n":0},{"a":23,"p":13,"n":0},{"a":23,"p":14,"n":0},{"a":23,"p":15,"n":0},{"a":23,"p":16,"n":0},{"a":23,"p":17,"n":0},{"a":23,"p":18,"n":0},{"a":23,"p":19,"n":0},{"a":23,"p":20,"n":0},{"a":23,"p":21,"n":0},{"a":23,"p":22,"n":0},{"a":23,"p":23,"n":52},{"a":23,"p":24,"n":0},{"a":23,"p":25,"n":0},{"a":23,"p":26,"n":0},{"a":23,"p":27,"n":0},{"a":23,"p":28,"n":0},{"a":23,"p":29,"n":0},{"a":23,"p":30,"n":0},{"a":23,"p":31,"n":0},{"a":23,"p":32,"n":0},{"a":23,"p":33,"n":0},{"a":23,"p":34,"n":0},{"a":23,"p":35,"n":0},{"a":23,"p":36,"n":0},{"a":23,"p":37,"n":0},{"a":23,"p":38,"n":0},{"a":23,"p":39,"n":0},{"a":23,"p":40,"n":0},{"a":23,"p":41,"n":0},{"a":23,"p":42,"n":0},
{"a":24,"p":0,"n":0},{"a":24,"p":1,"n":0},{"a":24,"p":2,"n":0},{"a":24,"p":3,"n":0},{"a":24,"p":4,"n":0},{"a":24,"p":5,"n":0},{"a":24,"p":6,"n":0},{"a":24,"p":7,"n":0},{"a":24,"p":8,"n":0},{"a":24,"p":9,"n":0},{"a":24,"p":10,"n":0},{"a":24,"p":11,"n":0},{"a":24,"p":12,"n":0},{"a":24,"p":13,"n":0},{"a":24,"p":14,"n":0},{"a":24,"p":15,"n":0},{"a":24,"p":16,"n":0},{"a":24,"p":17,"n":0},{"a":24,"p":18,"n":0},{"a":24,"p":19,"n":0},{"a":24,"p":20,"n":0},{"a":24,"p":21,"n":0},{"a":24,"p":22,"n":0},{"a":24,"p":23,"n":0},{"a":24,"p":24,"n":44},{"a":24,"p":25,"n":0},{"a":24,"p":26,"n":0},{"a":24,"p":27,"n":0},{"a":24,"p":28,"n":0},{"a":24,"p":29,"n":0},{"a":24,"p":30,"n":0},{"a":24,"p":31,"n":0},{"a":24,"p":32,"n":0},{"a":24,"p":33,"n":0},{"a":24,"p":34,"n":0},{"a":24,"p":35,"n":0},{"a":24,"p":36,"n":0},{"a":24,"p":37,"n":0},{"a":24,"p":38,"n":0},{"a":24,"p":39,"n":0},{"a":24,"p":40,"n":0},{"a":24,"p":41,"n":0},{"a":24,"p":42,"n":0},
{"a":25,"p":0,"n":0},{"a":25,"p":1,"n":0},{"a":25,"p":2,"n":0},{"a":25,"p":3,"n":0},{"a":25,"p":4,"n":0},{"a":25,"p":5,"n":0},{"a":25,"p":6,"n":0},{"a":25,"p":7,"n":0},{"a":25,"p":8,"n":0},{"a":25,"p":9,"n":0},{"a":25,"p":10,"n":0},{"a":25,"p":11,"n":0},{"a":25,"p":12,"n":0},{"a":25,"p":13,"n":0},{"a":25,"p":14,"n":0},{"a":25,"p":15,"n":0},{"a":25,"p":16,"n":0},{"a":25,"p":17,"n":0},{"a":25,"p":18,"n":0},{"a":25,"p":19,"n":0},{"a":25,"p":20,"n":0},{"a":25,"p":21,"n":0},{"a":25,"p":22,"n":0},{"a":25,"p":23,"n":0},{"a":25,"p":24,"n":0},{"a":25,"p":25,"n":47},{"a":25,"p":26,"n":0},{"a":25,"p":27,"n":0},{"a":25,"p":28,"n":0},{"a":25,"p":29,"n":0},{"a":25,"p":30,"n":0},{"a":25,"p":31,"n":0},{"a":25,"p":32,"n":0},{"a":25,"p":33,"n":0},{"a":25,"p":34,"n":0},{"a":25,"p":35,"n":0},{"a":25,"p":36,"n":0},{"a":25,"p":37,"n":0},{"a":25,"p":38,"n":0},{"a":25,"p":39,"n":0},{"a":25,"p":40,"n":0},{"a":25,"p":41,"n":0},{"a":25,"p":42,"n":0},
{"a":26,"p":0,"n":0},{"a":26,"p":1,"n":0},{"a":26,"p":2,"n":0},{"a":26,"p":3,"n":0},{"a":26,"p":4,"n":0},{"a":26,"p":5,"n":0},{"a":26,"p":6,"n":0},{"a":26,"p":7,"n":0},{"a":26,"p":8,"n":0},{"a":26,"p":9,"n":0},{"a":26,"p":10,"n":0},{"a":26,"p":11,"n":0},{"a":26,"p":12,"n":0},{"a":26,"p":13,"n":0},{"a":26,"p":14,"n":0},{"a":26,"p":15,"n":0},{"a":26,"p":16,"n":0},{"a":26,"p":17,"n":0},{"a":26,"p":18,"n":0},{"a":26,"p":19,"n":0},{"a":26,"p":20,"n":0},{"a":26,"p":21,"n":0},{"a":26,"p":22,"n":0},{"a":26,"p":23,"n":0},{"a":26,"p":24,"n":0},{"a":26,"p":25,"n":0},{"a":26,"p":26,"n":42},{"a":26,"p":27,"n":0},{"a":26,"p":28,"n":0},{"a":26,"p":29,"n":0},{"a":26,"p":30,"n":0},{"a":26,"p":31,"n":0},{"a":26,"p":32,"n":0},{"a":26,"p":33,"n":0},{"a":26,"p":34,"n":0},{"a":26,"p":35,"n":0},{"a":26,"p":36,"n":0},{"a":26,"p":37,"n":0},{"a":26,"p":38,"n":0},{"a":26,"p":39,"n":0},{"a":26,"p":40,"n":0},{"a":26,"p":41,"n":0},{"a":26,"p":42,"n":0},
{"a":27,"p":0,"n":0},{"a":27,"p":1,"n":0},{"a":27,"p":2,"n":0},{"a":27,"p":3,"n":0},{"a":27,"p":4,"n":0},{"a":27,"p":5,"n":0},{"a":27,"p":6,"n":0},{"a":27,"p":7,"n":0},{"a":27,"p":8,"n":0},{"a":27,"p":9,"n":0},{"a":27,"p":10,"n":0},{"a":27,"p":11,"n":0},{"a":27,"p":12,"n":0},{"a":27,"p":13,"n":0},{"a":27,"p":14,"n":0},{"a":27,"p":15,"n":0},{"a":27,"p":16,"n":0},{"a":27,"p":17,"n":0},{"a":27,"p":18,"n":0},{"a":27,"p":19,"n":0},{"a":27,"p":20,"n":0},{"a":27,"p":21,"n":0},{"a":27,"p":22,"n":0},{"a":27,"p":23,"n":0},{"a":27,"p":24,"n":0},{"a":27,"p":25,"n":0},{"a":27,"p":26,"n":0},{"a":27,"p":27,"n":45},{"a":27,"p":28,"n":0},{"a":27,"p":29,"n":0},{"a":27,"p":30,"n":0},{"a":27,"p":31,"n":0},{"a":27,"p":32,"n":0},{"a":27,"p":33,"n":0},{"a":27,"p":34,"n":0},{"a":27,"p":35,"n":0},{"a":27,"p":36,"n":0},{"a":27,"p":37,"n":0},{"a":27,"p":38,"n":0},{"a":27,"p":39,"n":0},{"a":27,"p":40,"n":0},{"a":27,"p":41,"n":0},{"a":27,"p":42,"n":0},
{"a":28,"p":0,"n":0},{"a":28,"p":1,"n":0},{"a":28,"p":2,"n":0},{"a":28,"p":3,"n":0},{"a":28,"p":4,"n":0},{"a":28,"p":5,"n":0},{"a":28,"p":6,"n":0},{"a":28,"p":7,"n":0},{"a":28,"p":8,"n":0},{"a":28,"p":9,"n":0},{"a":28,"p":10,"n":0},{"a":28,"p":11,"n":0},{"a":28,"p":12,"n":0},{"a":28,"p":13,"n":0},{"a":28,"p":14,"n":0},{"a":28,"p":15,"n":0},{"a":28,"p":16,"n":0},{"a":28,"p":17,"n":0},{"a":28,"p":18,"n":0},{"a":28,"p":19,"n":0},{"a":28,"p":20,"n":0},{"a":28,"p":21,"n":0},{"a":28,"p":22,"n":0},{"a":28,"p":23,"n":0},{"a":28,"p":24,"n":0},{"a":28,"p":25,"n":0},{"a":28,"p":26,"n":0},{"a":28,"p":27,"n":0},{"a":28,"p":28,"n":48},{"a":28,"p":29,"n":0},{"a":28,"p":30,"n":0},{"a":28,"p":31,"n":0},{"a":28,"p":32,"n":0},{"a":28,"p":33,"n":0},{"a":28,"p":34,"n":0},{"a":28,"p":35,"n":0},{"a":28,"p":36,"n":0},{"a":28,"p":37,"n":0},{"a":28,"p":38,"n":0},{"a":28,"p":39,"n":0},{"a":28,"p":40,"n":0},{"a":28,"p":41,"n":0},{"a":28,"p":42,"n":0},
{"a":29,"p":0,"n":0},{"a":29,"p":1,"n":0},{"a":29,"p":2,"n":0},{"a":29,"p":3,"n":0},{"a":29,"p":4,"n":0},{"a":29,"p":5,"n":0},{"a":29,"p":6,"n":0},{"a":29,"p":7,"n":0},{"a":29,"p":8,"n":0},{"a":29,"p":9,"n":0},{"a":29,"p":10,"n":0},{"a":29,"p":11,"n":0},{"a":29,"p":12,"n":0},{"a":29,"p":13,"n":0},{"a":29,"p":14,"n":0},{"a":29,"p":15,"n":0},{"a":29,"p":16,"n":0},{"a":29,"p":17,"n":0},{"a":29,"p":18,"n":0},{"a":29,"p":19,"n":0},{"a":29,"p":20,"n":0},{"a":29,"p":21,"n":0},{"a":29,"p":22,"n":0},{"a":29,"p":23,"n":0},{"a":29,"p":24,"n":0},{"a":29,"p":25,"n":0},{"a":29,"p":26,"n":0},{"a":29,"p":27,"n":0},{"a":29,"p":28,"n":0},{"a":29,"p":29,"n":54},{"a":29,"p":30,"n":0},{"a":29,"p":31,"n":0},{"a":29,"p":32,"n":0},{"a":29,"p":33,"n":0},{"a":29,"p":34,"n":0},{"a":29,"p":35,"n":0},{"a":29,"p":36,"n":0},{"a":29,"p":37,"n":0},{"a":29,"p":38,"n":0},{"a":29,"p":39,"n":0},{"a":29,"p":40,"n":0},{"a":29,"p":41,"n":0},{"a":29,"p":42,"n":0},
{"a":30,"p":0,"n":0},{"a":30,"p":1,"n":0},{"a":30,"p":2,"n":0},{"a":30,"p":3,"n":0},{"a":30,"p":4,"n":0},{"a":30,"p":5,"n":0},{"a":30,"p":6,"n":0},{"a":30,"p":7,"n":0},{"a":30,"p":8,"n":0},{"a":30,"p":9,"n":0},{"a":30,"p":10,"n":0},{"a":30,"p":11,"n":0},{"a":30,"p":12,"n":0},{"a":30,"p":13,"n":0},{"a":30,"p":14,"n":0},{"a":30,"p":15,"n":0},{"a":30,"p":16,"n":0},{"a":30,"p":17,"n":0},{"a":30,"p":18,"n":0},{"a":30,"p":19,"n":0},{"a":30,"p":20,"n":0},{"a":30,"p":21,"n":0},{"a":30,"p":22,"n":0},{"a":30,"p":23,"n":0},{"a":30,"p":24,"n":0},{"a":30,"p":25,"n":0},{"a":30,"p":26,"n":0},{"a":30,"p":27,"n":0},{"a":30,"p":28,"n":0},{"a":30,"p":29,"n":0},{"a":30,"p":30,"n":44},{"a":30,"p":31,"n":0},{"a":30,"p":32,"n":0},{"a":30,"p":33,"n":0},{"a":30,"p":34,"n":0},{"a":30,"p":35,"n":0},{"a":30,"p":36,"n":0},{"a":30,"p":37,"n":0},{"a":30,"p":38,"n":0},{"a":30,"p":39,"n":0},{"a":30,"p":40,"n":0},{"a":30,"p":41,"n":0},{"a":30,"p":42,"n":0},
{"a":31,"p":0,"n":0},{"a":31,"p":1,"n":0},{"a":31,"p":2,"n":0},{"a":31,"p":3,"n":0},{"a":31,"p":4,"n":0},{"a":31,"p":5,"n":0},{"a":31,"p":6,"n":0},{"a":31,"p":7,"n":0},{"a":31,"p":8,"n":0},{"a":31,"p":9,"n":0},{"a":31,"p":10,"n":0},{"a":31,"p":11,"n":0},{"a":31,"p":12,"n":0},{"a":31,"p":13,"n":0},{"a":31,"p":14,"n":0},{"a":31,"p":15,"n":0},{"a":31,"p":16,"n":0},{"a":31,"p":17,"n":0},{"a":31,"p":18,"n":0},{"a":31,"p":19,"n":0},{"a":31,"p":20,"n":0},{"a":31,"p":21,"n":0},{"a":31,"p":22,"n":0},{"a":31,"p":23,"n":0},{"a":31,"p":24,"n":0},{"a":31,"p":25,"n":0},{"a":31,"p":26,"n":0},{"a":31,"p":27,"n":0},{"a":31,"p":28,"n":0},{"a":31,"p":29,"n":0},{"a":31,"p":30,"n":0},{"a":31,"p":31,"n":39},{"a":31,"p":32,"n":0},{"a":31,"p":33,"n":0},{"a":31,"p":34,"n":0},{"a":31,"p":35,"n":0},{"a":31,"p":36,"n":0},{"a":31,"p":37,"n":0},{"a":31,"p":38,"n":0},{"a":31,"p":39,"n":0},{"a":31,"p":40,"n":0},{"a":31,"p":41,"n":0},{"a":31,"p":42,"n":0},
{"a":32,"p":0,"n":0},{"a":32,"p":1,"n":0},{"a":32,"p":2,"n":0},{"a":32,"p":3,"n":0},{"a":32,"p":4,"n":0},{"a":32,"p":5,"n":0},{"a":32,"p":6,"n":0},{"a":32,"p":7,"n":0},{"a":32,"p":8,"n":0},{"a":32,"p":9,"n":0},{"a":32,"p":10,"n":0},{"a":32,"p":11,"n":0},{"a":32,"p":12,"n":0},{"a":32,"p":13,"n":0},{"a":32,"p":14,"n":0},{"a":32,"p":15,"n":0},{"a":32,"p":16,"n":0},{"a":32,"p":17,"n":0},{"a":32,"p":18,"n":0},{"a":32,"p":19,"n":0},{"a":32,"p":20,"n":0},{"a":32,"p":21,"n":0},{"a":32,"p":22,"n":0},{"a":32,"p":23,"n":0},{"a":32,"p":24,"n":0},{"a":32,"p":25,"n":0},{"a":32,"p":26,"n":0},{"a":32,"p":27,"n":0},{"a":32,"p":28,"n":0},{"a":32,"p":29,"n":0},{"a":32,"p":30,"n":0},{"a":32,"p":31,"n":0},{"a":32,"p":32,"n":46},{"a":32,"p":33,"n":0},{"a":32,"p":34,"n":0},{"a":32,"p":35,"n":0},{"a":32,"p":36,"n":0},{"a":32,"p":37,"n":0},{"a":32,"p":38,"n":0},{"a":32,"p":39,"n":0},{"a":32,"p":40,"n":0},{"a":32,"p":41,"n":0},{"a":32,"p":42,"n":0},
{"a":33,"p":0,"n":0},{"a":33,"p":1,"n":0},{"a":33,"p":2,"n":0},{"a":33,"p":3,"n":0},{"a":33,"p":4,"n":0},{"a":33,"p":5,"n":0},{"a":33,"p":6,"n":0},{"a":33,"p":7,"n":0},{"a":33,"p":8,"n":0},{"a":33,"p":9,"n":0},{"a":33,"p":10,"n":0},{"a":33,"p":11,"n":0},{"a":33,"p":12,"n":0},{"a":33,"p":13,"n":0},{"a":33,"p":14,"n":0},{"a":33,"p":15,"n":0},{"a":33,"p":16,"n":0},{"a":33,"p":17,"n":0},{"a":33,"p":18,"n":0},{"a":33,"p":19,"n":0},{"a":33,"p":20,"n":0},{"a":33,"p":21,"n":0},{"a":33,"p":22,"n":0},{"a":33,"p":23,"n":0},{"a":33,"p":24,"n":0},{"a":33,"p":25,"n":0},{"a":33,"p":26,"n":0},{"a":33,"p":27,"n":0},{"a":33,"p":28,"n":0},{"a":33,"p":29,"n":0},{"a":33,"p":30,"n":0},{"a":33,"p":31,"n":0},{"a":33,"p":32,"n":0},{"a":33,"p":33,"n":43},{"a":33,"p":34,"n":0},{"a":33,"p":35,"n":0},{"a":33,"p":36,"n":0},{"a":33,"p":37,"n":0},{"a":33,"p":38,"n":0},{"a":33,"p":39,"n":0},{"a":33,"p":40,"n":0},{"a":33,"p":41,"n":0},{"a":33,"p":42,"n":0},
{"a":34,"p":0,"n":0},{"a":34,"p":1,"n":0},{"a":34,"p":2,"n":0},{"a":34,"p":3,"n":0},{"a":34,"p":4,"n":0},{"a":34,"p":5,"n":0},{"a":34,"p":6,"n":0},{"a":34,"p":7,"n":0},{"a":34,"p":8,"n":0},{"a":34,"p":9,"n":0},{"a":34,"p":10,"n":0},{"a":34,"p":11,"n":0},{"a":34,"p":12,"n":0},{"a":34,"p":13,"n":0},{"a":34,"p":14,"n":0},{"a":34,"p":15,"n":0},{"a":34,"p":16,"n":0},{"a":34,"p":17,"n":0},{"a":34,"p":18,"n":0},{"a":34,"p":19,"n":0},{"a":34,"p":20,"n":0},{"a":34,"p":21,"n":0},{"a":34,"p":22,"n":0},{"a":34,"p":23,"n":0},{"a":34,"p":24,"n":0},{"a":34,"p":25,"n":0},{"a":34,"p":26,"n":0},{"a":34,"p":27,"n":0},{"a":34,"p":28,"n":0},{"a":34,"p":29,"n":0},{"a":34,"p":30,"n":0},{"a":34,"p":31,"n":0},{"a":34,"p":32,"n":0},{"a":34,"p":33,"n":0},{"a":34,"p":34,"n":45},{"a":34,"p":35,"n":0},{"a":34,"p":36,"n":0},{"a":34,"p":37,"n":0},{"a":34,"p":38,"n":0},{"a":34,"p":39,"n":0},{"a":34,"p":40,"n":0},{"a":34,"p":41,"n":0},{"a":34,"p":42,"n":0},
{"a":35,"p":0,"n":0},{"a":35,"p":1,"n":0},{"a":35,"p":2,"n":0},{"a":35,"p":3,"n":0},{"a":35,"p":4,"n":0},{"a":35,"p":5,"n":0},{"a":35,"p":6,"n":0},{"a":35,"p":7,"n":0},{"a":35,"p":8,"n":0},{"a":35,"p":9,"n":0},{"a":35,"p":10,"n":0},{"a":35,"p":11,"n":0},{"a":35,"p":12,"n":0},{"a":35,"p":13,"n":0},{"a":35,"p":14,"n":0},{"a":35,"p":15,"n":0},{"a":35,"p":16,"n":0},{"a":35,"p":17,"n":0},{"a":35,"p":18,"n":0},{"a":35,"p":19,"n":0},{"a":35,"p":20,"n":0},{"a":35,"p":21,"n":0},{"a":35,"p":22,"n":0},{"a":35,"p":23,"n":0},{"a":35,"p":24,"n":0},{"a":35,"p":25,"n":0},{"a":35,"p":26,"n":0},{"a":35,"p":27,"n":0},{"a":35,"p":28,"n":0},{"a":35,"p":29,"n":0},{"a":35,"p":30,"n":0},{"a":35,"p":31,"n":0},{"a":35,"p":32,"n":0},{"a":35,"p":33,"n":0},{"a":35,"p":34,"n":0},{"a":35,"p":35,"n":41},{"a":35,"p":36,"n":0},{"a":35,"p":37,"n":0},{"a":35,"p":38,"n":0},{"a":35,"p":39,"n":0},{"a":35,"p":40,"n":0},{"a":35,"p":41,"n":0},{"a":35,"p":42,"n":0},
{"a":36,"p":0,"n":0},{"a":36,"p":1,"n":0},{"a":36,"p":2,"n":0},{"a":36,"p":3,"n":0},{"a":36,"p":4,"n":0},{"a":36,"p":5,"n":0},{"a":36,"p":6,"n":0},{"a":36,"p":7,"n":0},{"a":36,"p":8,"n":0},{"a":36,"p":9,"n":0},{"a":36,"p":10,"n":0},{"a":36,"p":11,"n":0},{"a":36,"p":12,"n":0},{"a":36,"p":13,"n":0},{"a":36,"p":14,"n":0},{"a":36,"p":15,"n":0},{"a":36,"p":16,"n":0},{"a":36,"p":17,"n":0},{"a":36,"p":18,"n":0},{"a":36,"p":19,"n":0},{"a":36,"p":20,"n":0},{"a":36,"p":21,"n":0},{"a":36,"p":22,"n":0},{"a":36,"p":23,"n":0},{"a":36,"p":24,"n":0},{"a":36,"p":25,"n":0},{"a":36,"p":26,"n":0},{"a":36,"p":27,"n":0},{"a":36,"p":28,"n":0},{"a":36,"p":29,"n":0},{"a":36,"p":30,"n":0},{"a":36,"p":31,"n":0},{"a":36,"p":32,"n":0},{"a":36,"p":33,"n":0},{"a":36,"p":34,"n":0},{"a":36,"p":35,"n":0},{"a":36,"p":36,"n":47},{"a":36,"p":37,"n":0},{"a":36,"p":38,"n":0},{"a":36,"p":39,"n":0},{"a":36,"p":40,"n":0},{"a":36,"p":41,"n":0},{"a":36,"p":42,"n":0},
{"a":37,"p":0,"n":0},{"a":37,"p":1,"n":0},{"a":37,"p":2,"n":0},{"a":37,"p":3,"n":0},{"a":37,"p":4,"n":0},{"a":37,"p":5,"n":0},{"a":37,"p":6,"n":0},{"a":37,"p":7,"n":0},{"a":37,"p":8,"n":0},{"a":37,"p":9,"n":0},{"a":37,"p":10,"n":0},{"a":37,"p":11,"n":0},{"a":37,"p":12,"n":0},{"a":37,"p":13,"n":0},{"a":37,"p":14,"n":0},{"a":37,"p":15,"n":0},{"a":37,"p":16,"n":0},{"a":37,"p":17,"n":0},{"a":37,"p":18,"n":0},{"a":37,"p":19,"n":0},{"a":37,"p":20,"n":0},{"a":37,"p":21,"n":0},{"a":37,"p":22,"n":0},{"a":37,"p":23,"n":0},{"a":37,"p":24,"n":0},{"a":37,"p":25,"n":0},{"a":37,"p":26,"n":0},{"a":37,"p":27,"n":0},{"a":37,"p":28,"n":0},{"a":37,"p":29,"n":0},{"a":37,"p":30,"n":0},{"a":37,"p":31,"n":0},{"a":37,"p":32,"n":0},{"a":37,"p":33,"n":0},{"a":37,"p":34,"n":0},{"a":37,"p":35,"n":0},{"a":37,"p":36,"n":0},{"a":37,"p":37,"n":53},{"a":37,"p":38,"n":0},{"a":37,"p":39,"n":0},{"a":37,"p":40,"n":0},{"a":37,"p":41,"n":0},{"a":37,"p":42,"n":0},
{"a":38,"p":0,"n":0},{"a":38,"p":1,"n":0},{"a":38,"p":2,"n":0},{"a":38,"p":3,"n":0},{"a":38,"p":4,"n":0},{"a":38,"p":5,"n":0},{"a":38,"p":6,"n":0},{"a":38,"p":7,"n":0},{"a":38,"p":8,"n":0},{"a":38,"p":9,"n":0},{"a":38,"p":10,"n":0},{"a":38,"p":11,"n":0},{"a":38,"p":12,"n":0},{"a":38,"p":13,"n":0},{"a":38,"p":14,"n":0},{"a":38,"p":15,"n":0},{"a":38,"p":16,"n":0},{"a":38,"p":17,"n":0},{"a":38,"p":18,"n":0},{"a":38,"p":19,"n":0},{"a":38,"p":20,"n":0},{"a":38,"p":21,"n":0},{"a":38,"p":22,"n":0},{"a":38,"p":23,"n":0},{"a":38,"p":24,"n":0},{"a":38,"p":25,"n":0},{"a":38,"p":26,"n":0},{"a":38,"p":27,"n":0},{"a":38,"p":28,"n":0},{"a":38,"p":29,"n":0},{"a":38,"p":30,"n":0},{"a":38,"p":31,"n":0},{"a":38,"p":32,"n":0},{"a":38,"p":33,"n":0},{"a":38,"p":34,"n":0},{"a":38,"p":35,"n":0},{"a":38,"p":36,"n":0},{"a":38,"p":37,"n":0},{"a":38,"p":38,"n":39},{"a":38,"p":39,"n":0},{"a":38,"p":40,"n":0},{"a":38,"p":41,"n":0},{"a":38,"p":42,"n":0},
{"a":39,"p":0,"n":0},{"a":39,"p":1,"n":0},{"a":39,"p":2,"n":0},{"a":39,"p":3,"n":0},{"a":39,"p":4,"n":0},{"a":39,"p":5,"n":0},{"a":39,"p":6,"n":0},{"a":39,"p":7,"n":0},{"a":39,"p":8,"n":0},{"a":39,"p":9,"n":0},{"a":39,"p":10,"n":0},{"a":39,"p":11,"n":0},{"a":39,"p":12,"n":0},{"a":39,"p":13,"n":0},{"a":39,"p":14,"n":0},{"a":39,"p":15,"n":0},{"a":39,"p":16,"n":0},{"a":39,"p":17,"n":0},{"a":39,"p":18,"n":0},{"a":39,"p":19,"n":0},{"a":39,"p":20,"n":0},{"a":39,"p":21,"n":0},{"a":39,"p":22,"n":0},{"a":39,"p":23,"n":0},{"a":39,"p":24,"n":0},{"a":39,"p":25,"n":0},{"a":39,"p":26,"n":0},{"a":39,"p":27,"n":0},{"a":39,"p":28,"n":0},{"a":39,"p":29,"n":0},{"a":39,"p":30,"n":0},{"a":39,"p":31,"n":0},{"a":39,"p":32,"n":0},{"a":39,"p":33,"n":0},{"a":39,"p":34,"n":0},{"a":39,"p":35,"n":0},{"a":39,"p":36,"n":0},{"a":39,"p":37,"n":0},{"a":39,"p":38,"n":0},{"a":39,"p":39,"n":33},{"a":39,"p":40,"n":0},{"a":39,"p":41,"n":0},{"a":39,"p":42,"n":0},
{"a":40,"p":0,"n":0},{"a":40,"p":1,"n":0},{"a":40,"p":2,"n":0},{"a":40,"p":3,"n":0},{"a":40,"p":4,"n":0},{"a":40,"p":5,"n":0},{"a":40,"p":6,"n":0},{"a":40,"p":7,"n":0},{"a":40,"p":8,"n":0},{"a":40,"p":9,"n":0},{"a":40,"p":10,"n":0},{"a":40,"p":11,"n":0},{"a":40,"p":12,"n":0},{"a":40,"p":13,"n":0},{"a":40,"p":14,"n":0},{"a":40,"p":15,"n":0},{"a":40,"p":16,"n":0},{"a":40,"p":17,"n":0},{"a":40,"p":18,"n":0},{"a":40,"p":19,"n":0},{"a":40,"p":20,"n":0},{"a":40,"p":21,"n":0},{"a":40,"p":22,"n":0},{"a":40,"p":23,"n":0},{"a":40,"p":24,"n":0},{"a":40,"p":25,"n":0},{"a":40,"p":26,"n":0},{"a":40,"p":27,"n":0},{"a":40,"p":28,"n":0},{"a":40,"p":29,"n":0},{"a":40,"p":30,"n":0},{"a":40,"p":31,"n":0},{"a":40,"p":32,"n":0},{"a":40,"p":33,"n":0},{"a":40,"p":34,"n":0},{"a":40,"p":35,"n":0},{"a":40,"p":36,"n":0},{"a":40,"p":37,"n":0},{"a":40,"p":38,"n":0},{"a":40,"p":39,"n":0},{"a":40,"p":40,"n":36},{"a":40,"p":41,"n":0},{"a":40,"p":42,"n":0},
{"a":41,"p":0,"n":0},{"a":41,"p":1,"n":0},{"a":41,"p":2,"n":0},{"a":41,"p":3,"n":0},{"a":41,"p":4,"n":0},{"a":41,"p":5,"n":0},{"a":41,"p":6,"n":0},{"a":41,"p":7,"n":0},{"a":41,"p":8,"n":0},{"a":41,"p":9,"n":0},{"a":41,"p":10,"n":0},{"a":41,"p":11,"n":0},{"a":41,"p":12,"n":0},{"a":41,"p":13,"n":0},{"a":41,"p":14,"n":0},{"a":41,"p":15,"n":0},{"a":41,"p":16,"n":0},{"a":41,"p":17,"n":0},{"a":41,"p":18,"n":0},{"a":41,"p":19,"n":0},{"a":41,"p":20,"n":0},{"a":41,"p":21,"n":0},{"a":41,"p":22,"n":0},{"a":41,"p":23,"n":0},{"a":41,"p":24,"n":0},{"a":41,"p":25,"n":0},{"a":41,"p":26,"n":0},{"a":41,"p":27,"n":0},{"a":41,"p":28,"n":0},{"a":41,"p":29,"n":0},{"a":41,"p":30,"n":0},{"a":41,"p":31,"n":0},{"a":41,"p":32,"n":0},{"a":41,"p":33,"n":0},{"a":41,"p":34,"n":0},{"a":41,"p":35,"n":0},{"a":41,"p":36,"n":0},{"a":41,"p":37,"n":0},{"a":41,"p":38,"n":0},{"a":41,"p":39,"n":0},{"a":41,"p":40,"n":0},{"a":41,"p":41,"n":38},{"a":41,"p":42,"n":0},
{"a":42,"p":0,"n":0},{"a":42,"p":1,"n":0},{"a":42,"p":2,"n":0},{"a":42,"p":3,"n":0},{"a":42,"p":4,"n":0},{"a":42,"p":5,"n":0},{"a":42,"p":6,"n":0},{"a":42,"p":7,"n":0},{"a":42,"p":8,"n":0},{"a":42,"p":9,"n":0},{"a":42,"p":10,"n":0},{"a":42,"p":11,"n":0},{"a":42,"p":12,"n":0},{"a":42,"p":13,"n":0},{"a":42,"p":14,"n":0},{"a":42,"p":15,"n":0},{"a":42,"p":16,"n":0},{"a":42,"p":17,"n":0},{"a":42,"p":18,"n":0},{"a":42,"p":19,"n":0},{"a":42,"p":20,"n":0},{"a":42,"p":21,"n":0},{"a":42,"p":22,"n":0},{"a":42,"p":23,"n":0},{"a":42,"p":24,"n":0},{"a":42,"p":25,"n":0},{"a":42,"p":26,"n":0},{"a":42,"p":27,"n":0},{"a":42,"p":28,"n":0},{"a":42,"p":29,"n":0},{"a":42,"p":30,"n":0},{"a":42,"p":31,"n":0},{"a":42,"p":32,"n":0},{"a":42,"p":33,"n":0},{"a":42,"p":34,"n":0},{"a":42,"p":35,"n":0},{"a":42,"p":36,"n":0},{"a":42,"p":37,"n":0},{"a":42,"p":38,"n":0},{"a":42,"p":39,"n":0},{"a":42,"p":40,"n":0},{"a":42,"p":41,"n":0},{"a":42,"p":42,"n":40}
]},
"encoding": {
  "x": {"field": "p", "type": "ordinal", "title": "Predicted Values",
        "scale": {"paddingInner": 0, "paddingOuter": 0},
        "axis": {"values": [0, 6, 12, 18, 24, 30, 36], "labelAngle": 270, "labelAlign": "right", "labelBaseline": "middle", "labelFont": "DejaVu Sans", "labelFontSize": 44, "labelColor": "#262626", "labelPadding": 17, "labelOverlap": false, "ticks": false, "tickSize": 0, "domain": false, "grid": false,
                 "titleFont": "DejaVu Sans", "titleFontSize": 48, "titleFontWeight": "normal", "titleColor": "#262626", "titleX": 199, "titleY": 117, "titleAlign": "center", "titleBaseline": "alphabetic"}},
  "y": {"field": "a", "type": "ordinal", "title": "Actual Values",
        "scale": {"paddingInner": 0, "paddingOuter": 0},
        "axis": {"values": [0, 6, 12, 18, 24, 30, 36], "labelAngle": 0, "labelAlign": "right", "labelBaseline": "middle", "labelFont": "DejaVu Sans", "labelFontSize": 44, "labelColor": "#262626", "labelPadding": 17, "labelOverlap": false, "ticks": false, "tickSize": 0, "domain": false, "grid": false,
                 "titleFont": "DejaVu Sans", "titleFontSize": 48, "titleFontWeight": "normal", "titleColor": "#262626", "titleAngle": 270, "titleX": -87, "titleY": 185, "titleAlign": "center", "titleBaseline": "alphabetic"}}
},
"layer": [
  {"mark": {"type": "rect"},
   "encoding": {"color": {"field": "n", "type": "quantitative",
     "scale": {"domain": [0, 7.125, 14.25, 21.375, 28.5, 35.625, 42.75, 49.875, 57], "range": ["#f7fbff", "#deebf7", "#c6dbef", "#9ecae1", "#6baed6", "#4292c6", "#2171b5", "#08519c", "#08306b"]},
     "legend": {"orient": "none", "legendX": 421, "legendY": 0, "direction": "vertical", "padding": 0, "title": null, "gradientLength": 370, "gradientThickness": 18, "gradientStrokeWidth": 0, "values": [0.01, 20, 40], "format": "d", "labelFont": "DejaVu Sans", "labelFontSize": 44, "labelColor": "#262626", "labelOffset": 15, "labelBaseline": "middle", "labelOverlap": false}}}},
  {"mark": {"type": "text", "font": "DejaVu Sans", "fontSize": 46, "dy": -2},
   "encoding": {"text": {"field": "n", "type": "quantitative"},
     "color": {"condition": {"test": "datum.n > 28", "value": "white"}, "value": "#262626"}}}
]
}
